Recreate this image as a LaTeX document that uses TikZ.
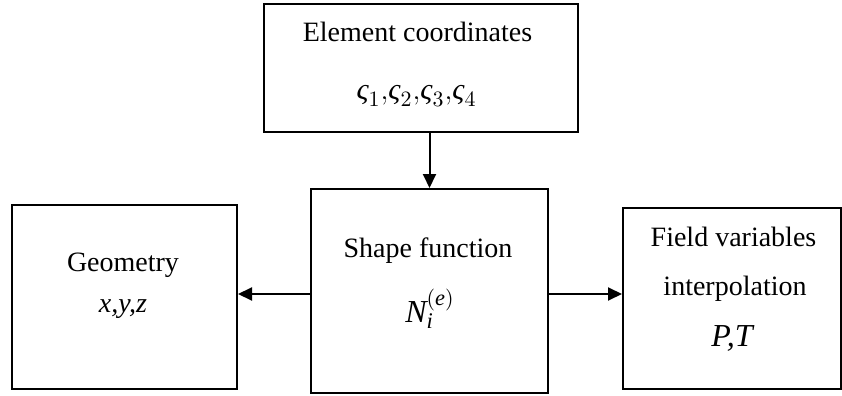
\documentclass[tikz,border=0pt]{standalone}
\usepackage{fontspec}
\setmainfont{Liberation Serif}
\usetikzlibrary{arrows.meta}

\tikzset{
	box/.style = {draw, line width=1pt, inner sep=0pt},
	txt/.style = {font=\fontsize{14}{17}\selectfont, inner sep=0pt},
	link/.style = {line width=1pt, -{Triangle[length=7pt,width=6.5pt]}}
}

\begin{document}
\begin{tikzpicture}[x=0.5pt, y=-0.5pt]
	\useasboundingbox (0,0) rectangle (842,396);
	% boxes
	\node [box, minimum width=157pt, minimum height=64pt] (coord) at (421,68) {};
	\node [box, minimum width=118.5pt, minimum height=102pt] (shape) at (429.5,291) {};
	\node [box, minimum width=112.5pt, minimum height=92pt] (geom) at (124.5,297) {};
	\node [box, minimum width=109pt, minimum height=90.5pt] (field) at (732,298.5) {};
	% texts
	\node [txt] (coorda) at (417.5,32) {Element coordinates};
	\node [txt, font=\fontsize{15}{18}\selectfont] (coordb) at (416.5,96) {$\mbox{\itshape ς}_1{,}\mbox{\itshape ς}_2{,}\mbox{\itshape ς}_3{,}\mbox{\itshape ς}_4$};
	\node [txt] (shapea) at (428,251) {Shape function};
	\node [txt, font=\fontsize{16}{19}\selectfont] (shapeb) at (430,309) {$\mathit{N}_{\mathit{i}}^{(\mathit{e})}$};
	\node [txt] (geoma) at (123,265) {Geometry};
	\node [txt] (geomb) at (123,309) {\itshape x,y,z};
	\node [txt] (fielda) at (733.5,237) {Field variables};
	\node [txt] (fieldb) at (735,289) {interpolation};
	\node [txt, font=\fontsize{16}{19}\selectfont] (fieldc) at (732,338) {\itshape P,T};
	% arrows
	\draw [link] (coord.south -| shape.north) -- (shape.north);
	\draw [link] ([yshift=-1.5pt]shape.west) -- ([yshift=-1.5pt]shape.west -| geom.east);
	\draw [link] ([yshift=-1.5pt]shape.east) -- ([yshift=-1.5pt]shape.east -| field.west);
\end{tikzpicture}
\end{document}
